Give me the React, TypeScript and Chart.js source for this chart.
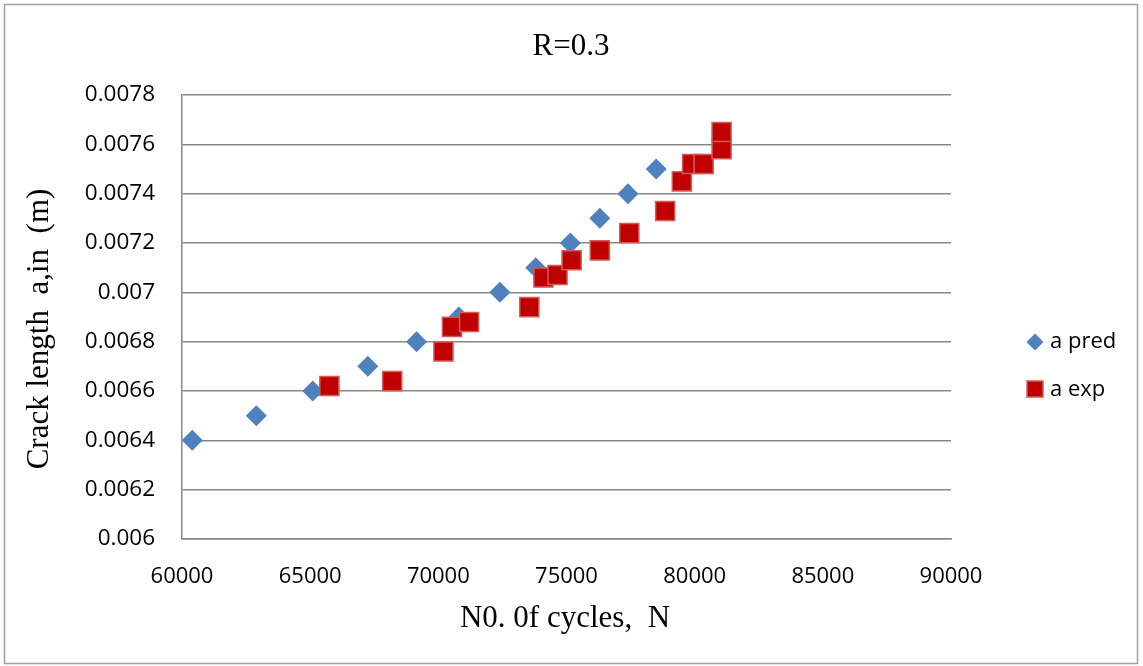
import React, { useEffect, useRef } from "react";
import { Chart, registerables } from "chart.js";

Chart.register(...registerables);

// Predicted crack length vs. number of cycles
const predCycles = [60400, 62900, 65100, 67250, 69150, 70800, 72400, 73800, 75150, 76300, 77400, 78500];
const predLength = [0.0064, 0.0065, 0.0066, 0.0067, 0.0068, 0.0069, 0.007, 0.0071, 0.0072, 0.0073, 0.0074, 0.0075];

// Measured crack length vs. number of cycles
const expCycles = [65750, 68200, 70200, 70530, 71200, 73550, 74100, 74650, 75200, 76300, 77450, 78850, 79500, 79900, 80350, 81050, 81050];
const expLength = [0.00662, 0.00664, 0.00676, 0.00686, 0.00688, 0.00694, 0.00706, 0.00707, 0.00713, 0.00717, 0.00724, 0.00733, 0.00745, 0.00752, 0.00752, 0.00758, 0.00765];

const chartTitle = "R=0.3";
const xTitle = "N0. 0f cycles,  N";
const yTitle = "Crack length  a,in  (m)";
const seriesNames = ["a pred", "a exp"];

const xMin = 60000;
const xMax = 90000;
const xStep = 5000;
const yMin = 0.006;
const yMax = 0.0078;
const yStep = 0.0002;

const W = 1143;
const H = 666;

const BLUE = "#4f81bd";
const RED = "#c00000";
const RED_EDGE = "#d45a5a";
const GRID = "#878787";
const SANS = "'Open Sans', sans-serif";
const SERIF = "'Liberation Serif', 'Times New Roman', serif";

const toPoints = (xs: number[], ys: number[]) => xs.map((x, i) => ({ x, y: ys[i] }));

const decorations = {
  id: "decorations",
  afterDraw(chart: Chart) {
    const ctx = chart.ctx;
    ctx.save();

    // outer frame
    ctx.strokeStyle = "#a0a0a0";
    ctx.lineWidth = 1.5;
    ctx.strokeRect(4.5, 4.5, W - 10, H - 7);

    // title
    ctx.fillStyle = "#000";
    ctx.font = `31px ${SERIF}`;
    ctx.textAlign = "center";
    ctx.textBaseline = "alphabetic";
    ctx.fillText(chartTitle, 571, 55);

    // x axis title
    ctx.fillText(xTitle, 565, 627);

    // y axis title
    ctx.save();
    ctx.translate(48, 329);
    ctx.rotate(-Math.PI / 2);
    ctx.fillText(yTitle, 0, 0);
    ctx.restore();

    // legend
    const lx = 1035;
    ctx.fillStyle = BLUE;
    ctx.beginPath();
    ctx.moveTo(lx - 8.5, 342);
    ctx.lineTo(lx, 333.5);
    ctx.lineTo(lx + 8.5, 342);
    ctx.lineTo(lx, 350.5);
    ctx.closePath();
    ctx.fill();

    ctx.fillStyle = RED;
    ctx.fillRect(lx - 8, 381, 16, 16);
    ctx.strokeStyle = RED_EDGE;
    ctx.lineWidth = 1.5;
    ctx.strokeRect(lx - 8, 381, 16, 16);

    ctx.fillStyle = "#000";
    ctx.font = `22px ${SANS}`;
    ctx.textAlign = "left";
    ctx.textBaseline = "middle";
    ctx.fillText(seriesNames[0], 1050, 342);
    ctx.fillText(seriesNames[1], 1050, 390);

    ctx.restore();
  },
};

export default function App() {
  const ref = useRef<HTMLCanvasElement>(null);

  useEffect(() => {
    if (!ref.current) return;
    const chart = new Chart(ref.current, {
      type: "scatter",
      data: {
        datasets: [
          {
            label: seriesNames[0],
            data: toPoints(predCycles, predLength),
            pointStyle: "rectRot",
            pointRadius: 10.5,
            pointHoverRadius: 10.5,
            backgroundColor: BLUE,
            borderColor: BLUE,
            borderWidth: 0,
            order: 1,
          },
          {
            label: seriesNames[1],
            data: toPoints(expCycles, expLength),
            pointStyle: "rect",
            pointRadius: 13.5,
            pointHoverRadius: 13.5,
            backgroundColor: RED,
            borderColor: RED_EDGE,
            borderWidth: 1.5,
            order: 0,
          },
        ],
      },
      options: {
        animation: false,
        responsive: false,
        devicePixelRatio: 1,
        layout: { padding: { top: 95, right: W - 951, bottom: 0, left: 0 } },
        plugins: {
          legend: { display: false },
          title: { display: false },
          tooltip: { enabled: false },
        },
        scales: {
          x: {
            type: "linear",
            min: xMin,
            max: xMax,
            afterFit: (scale: any) => {
              scale.height = H - 539;
            },
            ticks: {
              stepSize: xStep,
              padding: 25,
              color: "#000",
              font: { family: SANS, size: 22 },
              maxRotation: 0,
              callback: (v: any) => String(v),
            },
            grid: { display: false, drawTicks: false },
            border: { display: true, color: GRID, width: 1.5 },
          },
          y: {
            type: "linear",
            min: yMin,
            max: yMax,
            afterFit: (scale: any) => {
              scale.width = 182;
            },
            ticks: {
              stepSize: yStep,
              padding: 27,
              color: "#000",
              font: { family: SANS, size: 22.5 },
              callback: (v: any) => String(+Number(v).toFixed(4)),
            },
            grid: { display: true, drawTicks: false, color: GRID, lineWidth: 1.5 },
            border: { display: true, color: GRID, width: 1.5 },
          },
        },
      },
      plugins: [decorations],
    });
    return () => chart.destroy();
  }, []);

  return (
    <div style={{ position: "fixed", left: 0, top: 0, width: W, height: H, background: "#fff" }}>
      <canvas ref={ref} width={W} height={H} style={{ display: "block" }} />
    </div>
  );
}
